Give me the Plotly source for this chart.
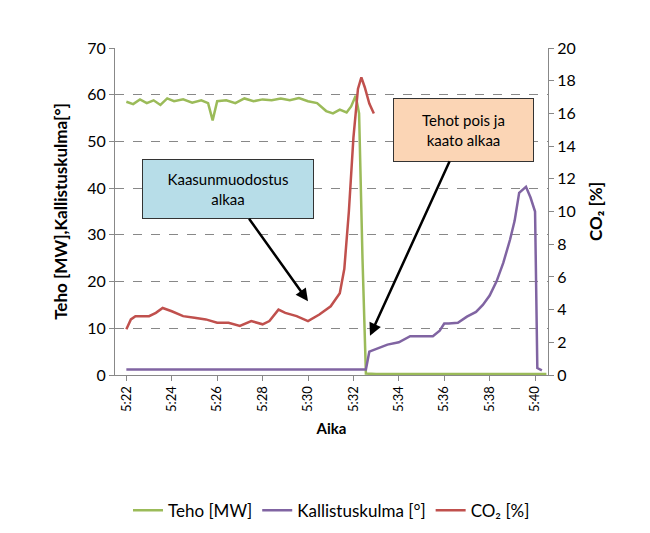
import plotly.graph_objects as go

# time in minutes after 5:00
teho_t = [22, 22.3, 22.6, 22.9, 23.2, 23.5, 23.8, 24.1, 24.5, 24.9, 25.3, 25.6, 25.8, 26.0, 26.4, 26.8, 27.2, 27.6, 28.0, 28.4, 28.8, 29.2, 29.6, 30.0, 30.4, 30.8, 31.1, 31.4, 31.7, 31.9, 32.1, 32.25, 32.4, 32.55, 33, 35, 38, 40.5]
teho_v = [58.5, 58.0, 59.0, 58.2, 58.8, 57.8, 59.2, 58.6, 59.0, 58.3, 58.8, 58.2, 54.5, 58.6, 58.8, 58.2, 59.2, 58.6, 59.0, 58.8, 59.2, 58.8, 59.3, 58.6, 58.2, 56.5, 56.0, 56.8, 56.2, 57.5, 59.8, 56.0, 25.0, 0.3, 0.2, 0.2, 0.2, 0.2]

kulma_t = [22, 30, 32.55, 32.7, 33.0, 33.5, 34.0, 34.5, 35.5, 35.8, 36.0, 36.2, 36.6, 37.0, 37.4, 37.7, 38.0, 38.3, 38.6, 38.9, 39.1, 39.3, 39.6, 39.8, 40.0, 40.1, 40.3]
kulma_v = [1.2, 1.2, 1.2, 5.0, 5.5, 6.5, 7.0, 8.3, 8.3, 9.5, 11.0, 11.0, 11.2, 12.5, 13.5, 15.0, 17.0, 20.0, 24.0, 29.0, 33.0, 39.0, 40.3, 38.0, 35.0, 1.5, 1.0]

co2_t = [22, 22.2, 22.4, 23.0, 23.3, 23.6, 24.0, 24.5, 25.0, 25.5, 26.0, 26.5, 27.0, 27.5, 28.0, 28.3, 28.7, 29.0, 29.5, 30.0, 30.5, 31.0, 31.4, 31.6, 31.8, 32.0, 32.2, 32.35, 32.5, 32.7, 32.9]
co2_v = [2.8, 3.4, 3.6, 3.6, 3.8, 4.1, 3.9, 3.6, 3.5, 3.4, 3.2, 3.2, 3.0, 3.3, 3.1, 3.3, 4.0, 3.8, 3.6, 3.3, 3.7, 4.2, 5.0, 6.5, 10.0, 14.5, 17.5, 18.2, 17.6, 16.6, 16.0]

tick_vals = list(range(22, 41, 2))
tick_text = ["5:%02d" % v for v in tick_vals]

font = "Lato, Open Sans, sans-serif"
fig = go.Figure()
fig.add_trace(go.Scatter(x=teho_t, y=teho_v, name="Teho [MW]", mode="lines",
                         line=dict(color="#9bbb59", width=2.5)))
fig.add_trace(go.Scatter(x=kulma_t, y=kulma_v, name="Kallistuskulma [°]", mode="lines",
                         line=dict(color="#8064a2", width=2.5)))
fig.add_trace(go.Scatter(x=co2_t, y=co2_v, name="CO₂ [%]", mode="lines", yaxis="y2",
                         line=dict(color="#c0504d", width=2.5)))

fig.add_annotation(x=30.0, y=15.8, ax=-80, ay=-112, text="Kaasunmuodostus<br>alkaa",
                   showarrow=True, arrowhead=2, arrowsize=1, arrowwidth=2.5, arrowcolor="black",
                   bgcolor="#b7dde8", bordercolor="#333", borderwidth=1, borderpad=10,
                   width=150, font=dict(size=15, color="black"))
fig.add_annotation(x=32.73, y=8.4, ax=94, ay=-206, text="Tehot pois ja<br>kaato alkaa",
                   showarrow=True, arrowhead=2, arrowsize=1, arrowwidth=2.5, arrowcolor="black",
                   bgcolor="#fbd5b5", bordercolor="#333", borderwidth=1, borderpad=12,
                   width=115, font=dict(size=15, color="black"))

fig.update_layout(
    width=650, height=533, plot_bgcolor="white", paper_bgcolor="white",
    font=dict(family=font, size=15, color="black"),
    margin=dict(l=107, r=110, t=40, b=166, autoexpand=False),
    showlegend=True,
    legend=dict(orientation="h", x=0.5, xanchor="center", y=-0.36, yanchor="top",
                font=dict(size=17)),
    xaxis=dict(range=[21.5, 40.57], tickvals=tick_vals, ticktext=tick_text, tickangle=-90,
               showline=True, linecolor="#888", ticks="outside", ticklen=5, tickcolor="#888",
               showgrid=False, zeroline=False, tickfont=dict(size=13), automargin=False,
               title=dict(text="<b>Aika</b>", font=dict(size=15), standoff=12)),
    yaxis=dict(range=[0, 70], dtick=10, showline=True, linecolor="#888", ticks="outside",
               tickcolor="#888", showgrid=True, gridcolor="#888", griddash="dash",
               zeroline=False, tickfont=dict(size=16), automargin=False,
               title=dict(text="<b>Teho [MW],Kallistuskulma[°]</b>", font=dict(size=17))),
    yaxis2=dict(range=[0, 20], dtick=2, overlaying="y", side="right", showline=True,
                linecolor="#888", ticks="outside", tickcolor="#888", showgrid=False,
                zeroline=False, tickfont=dict(size=16), automargin=False,
                title=dict(text="<b>CO₂ [%]</b>", font=dict(size=17))),
)
fig.write_html("out.html")
